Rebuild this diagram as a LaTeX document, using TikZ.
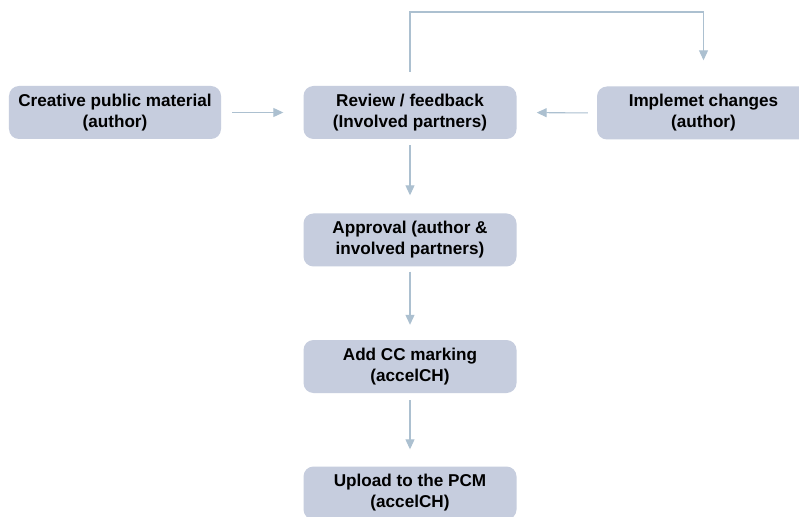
\documentclass[tikz,border=0pt]{standalone}
\usepackage{fontspec}
\setmainfont{Liberation Sans}
\usetikzlibrary{arrows.meta}
\definecolor{boxfill}{RGB}{198,205,222}
\definecolor{linecol}{RGB}{172,192,208}
\begin{document}
\begin{tikzpicture}[x=1bp,y=-1bp,
  stepbox/.style={rectangle, rounded corners=10bp, fill=boxfill, draw=none,
    minimum width=213bp, minimum height=53bp, inner sep=0pt,
    align=center, font=\fontsize{17.2}{21}\selectfont\bfseries},
  flow/.style={draw=linecol, line width=1.1bp,
    -{Triangle[width=9bp,length=10bp]}}]
\clip (0,0) rectangle (799,517);
\fill[white] (0,0) rectangle (799,517);
\node[stepbox, minimum width=212bp] (create) at (115,112.5) {Creative public material\\(author)};
\node[stepbox] (review) at (410,112.5) {Review / feedback\\(Involved partners)};
\node[stepbox] (impl) at (703.5,113) {Implemet changes\\(author)};
\node[stepbox] (appr) at (410,240) {Approval (author \&\\involved partners)};
\node[stepbox] (addcc) at (410,366.5) {Add CC marking\\(accelCH)};
\node[stepbox] (upload) at (410,493) {Upload to the PCM\\(accelCH)};
\coordinate (topL) at (410,12);
\coordinate (topR) at (703.5,12);
\draw[flow, shorten <=11bp, shorten >=20bp] (create.east) -- (review.west);
\draw[flow, shorten <=9bp, shorten >=20bp] (impl.west) -- (review.east);
\draw[flow, shorten <=6bp, shorten >=18bp] (review.south) -- (appr.north);
\draw[flow, shorten <=5bp, shorten >=15bp] (appr.south) -- (addcc.north);
\draw[flow, shorten <=7bp, shorten >=17bp] (addcc.south) -- (upload.north);
\draw[flow, shorten <=14bp, shorten >=26bp] (review.north) -- (topL) -- (topR) -- (impl.north);
\end{tikzpicture}
\end{document}
